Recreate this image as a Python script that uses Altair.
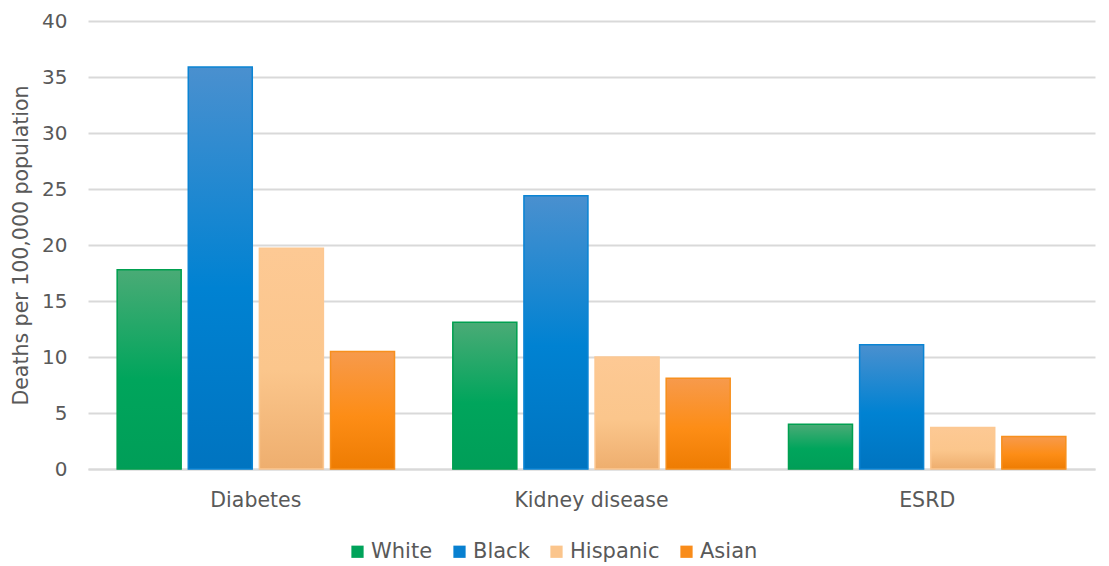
import altair as alt
import pandas as pd

categories = ["Diabetes", "Kidney disease", "ESRD"]
groups = ["White", "Black", "Hispanic", "Asian"]
white = [17.8, 13.1, 4.0]
black = [35.9, 24.4, 11.1]
hispanic = [19.7, 10.0, 3.7]
asian = [10.5, 8.1, 2.9]

colors = ["#00a35a", "#0880d0", "#fbc58c", "#f98c1a"]
strokes = ["#00a050", "#0a84d4", "#fcc892", "#f7901e"]
grad_top = ["#4aab76", "#4a90cf", "#fdc994", "#f79a4c"]
grad_mid = ["#00a55c", "#0082d2", "#fbc68c", "#fd8d16"]
grad_bot = ["#009e58", "#0074c0", "#eeae6e", "#ee7c02"]

rows = []
for g, vals in zip(groups, [white, black, hispanic, asian]):
    for c, v in zip(categories, vals):
        rows.append({"category": c, "group": g, "value": v})
df = pd.DataFrame(rows)

FONT = "DejaVu Sans"
TXT = "#595959"

base = alt.Chart(df).encode(
    x=alt.X(
        "category:N",
        sort=categories,
        scale=alt.Scale(domain=categories, paddingInner=0, paddingOuter=0),
        axis=alt.Axis(title=None, labelAngle=0, labelFontSize=20.5, labelColor=TXT,
                      labelFont=FONT, labelPadding=21, ticks=False,
                      domainColor="#d9d9d9", domainWidth=2),
    ),
    xOffset=alt.XOffset(
        "group:N",
        scale=alt.Scale(domain=groups, paddingInner=0.1, paddingOuter=0.41),
    ),
    y=alt.Y(
        "value:Q",
        scale=alt.Scale(domain=[0, 40]),
        axis=alt.Axis(title="Deaths per 100,000 population", values=list(range(0, 45, 5)),
                      labelFontSize=20, labelColor=TXT, labelFont=FONT, labelPadding=21,
                      ticks=False, domain=False, gridColor="#d9d9d9", gridWidth=2,
                      titleFontSize=20.5, titleFontWeight="normal", titleColor=TXT,
                      titleFont=FONT, titlePadding=10),
    ),
)

shadow = base.mark_bar(color="#000000", opacity=0.13, xOffset=2, yOffset=1)

legend_layer = base.mark_bar().encode(
    color=alt.Color(
        "group:N",
        scale=alt.Scale(domain=groups, range=colors),
        legend=alt.Legend(title=None, orient="none", direction="horizontal",
                          legendX=259, legendY=520, symbolType="square",
                          symbolSize=150, symbolStrokeWidth=0, labelFontSize=21,
                          labelColor=TXT, labelFont=FONT, columnPadding=16,
                          labelOffset=3),
    )
)

layers = [shadow, legend_layer]
for i, g in enumerate(groups):
    gradient = alt.LinearGradient(
        gradient="linear",
        stops=[
            alt.GradientStop(color=grad_top[i], offset=0),
            alt.GradientStop(color=grad_mid[i], offset=0.55),
            alt.GradientStop(color=grad_bot[i], offset=1),
        ],
        x1=0, x2=0, y1=0, y2=1,
    )
    layers.append(
        base.transform_filter(alt.datum.group == g).mark_bar(
            fill=gradient, stroke=strokes[i], strokeWidth=1.5
        )
    )

chart = alt.layer(*layers).properties(
    width=1007,
    height=448,
    autosize=alt.AutoSizeParams(type="none"),
    padding={"left": 80, "top": 13, "right": 6, "bottom": 110},
).configure(font=FONT).configure_view(stroke=None)

chart.save("out.html", embed_options={"renderer": "svg", "actions": False})
